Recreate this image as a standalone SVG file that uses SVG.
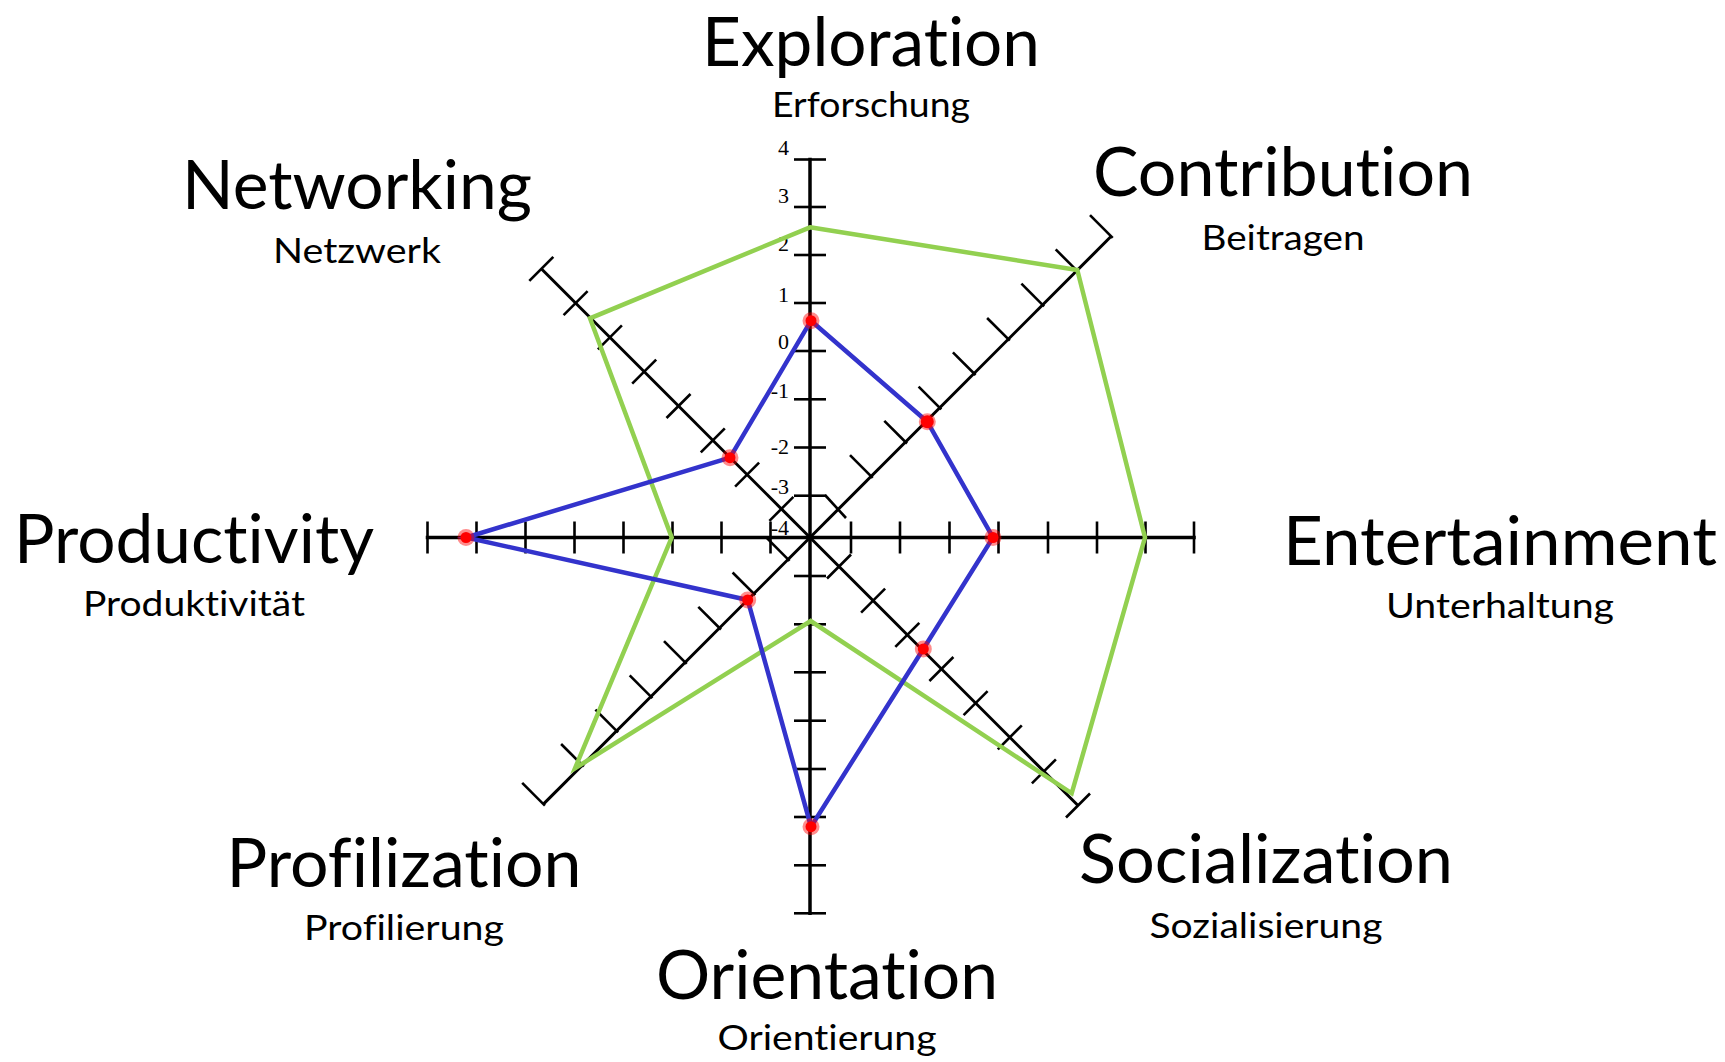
<svg xmlns="http://www.w3.org/2000/svg" width="1725" height="1062" viewBox="0 0 1725 1062">
<style>
.title{font-family:Lato,"Open Sans","Liberation Sans",sans-serif;font-size:68px;fill:#000;text-anchor:middle;font-variant-ligatures:none;font-feature-settings:"liga" 0,"clig" 0}
.sub{font-family:Lato,"Open Sans","Liberation Sans",sans-serif;font-size:35px;fill:#000;text-anchor:middle;font-variant-ligatures:none;font-feature-settings:"liga" 0,"clig" 0}
.num{font-family:"Liberation Serif",serif;font-size:22px;fill:#000;text-anchor:end}
.axis{stroke:#000;stroke-width:3.5;fill:none;stroke-linecap:square}
.diag{stroke:#000;stroke-width:3;fill:none}
.tick{stroke:#000;stroke-width:2.6;fill:none}
.green{fill:none;stroke:#92d050;stroke-width:4.5;stroke-linejoin:miter}
.blue{fill:none;stroke:#3333cc;stroke-width:4.5;stroke-linejoin:miter}
.halo{fill:#ff0000;fill-opacity:0.45}
.dot{fill:#ff0000}
</style>
<rect width="1725" height="1062" fill="#fff"/>

<g id="axes">
  <line class="axis" x1="810" y1="159.5" x2="810" y2="913.3"/>
  <line class="axis" x1="427.5" y1="537.5" x2="1194" y2="537.5"/>
  <line class="diag" x1="810" y1="537.5" x2="1111.2" y2="236.3"/>
  <line class="diag" x1="810" y1="537.5" x2="543.4" y2="804.1"/>
  <line class="diag" x1="810" y1="537.5" x2="541.3" y2="268.8"/>
  <line class="diag" x1="810" y1="537.5" x2="1078" y2="805.5"/>
</g>

<g id="ticks">
  <g id="ticks-vertical">
    <line class="tick" x1="794" y1="159.5" x2="826" y2="159.5"/>
    <line class="tick" x1="794" y1="207" x2="826" y2="207"/>
    <line class="tick" x1="794" y1="255" x2="826" y2="255"/>
    <line class="tick" x1="794" y1="303" x2="826" y2="303"/>
    <line class="tick" x1="794" y1="351" x2="826" y2="351"/>
    <line class="tick" x1="794" y1="399.3" x2="826" y2="399.3"/>
    <line class="tick" x1="794" y1="447.5" x2="826" y2="447.5"/>
    <line class="tick" x1="794" y1="495.7" x2="826" y2="495.7"/>
    <line class="tick" x1="794" y1="576" x2="826" y2="576"/>
    <line class="tick" x1="794" y1="624.3" x2="826" y2="624.3"/>
    <line class="tick" x1="794" y1="672.3" x2="826" y2="672.3"/>
    <line class="tick" x1="794" y1="720.7" x2="826" y2="720.7"/>
    <line class="tick" x1="794" y1="769" x2="826" y2="769"/>
    <line class="tick" x1="794" y1="817" x2="826" y2="817"/>
    <line class="tick" x1="794" y1="865.3" x2="826" y2="865.3"/>
    <line class="tick" x1="794" y1="913.3" x2="826" y2="913.3"/>
  </g>
  <g id="ticks-horizontal">
    <line class="tick" x1="427.5" y1="521.5" x2="427.5" y2="553.5"/>
    <line class="tick" x1="476.5" y1="521.5" x2="476.5" y2="553.5"/>
    <line class="tick" x1="525.5" y1="521.5" x2="525.5" y2="553.5"/>
    <line class="tick" x1="574.5" y1="521.5" x2="574.5" y2="553.5"/>
    <line class="tick" x1="623.5" y1="521.5" x2="623.5" y2="553.5"/>
    <line class="tick" x1="672.5" y1="521.5" x2="672.5" y2="553.5"/>
    <line class="tick" x1="721.5" y1="521.5" x2="721.5" y2="553.5"/>
    <line class="tick" x1="770.5" y1="521.5" x2="770.5" y2="553.5"/>
    <line class="tick" x1="851" y1="521.5" x2="851" y2="553.5"/>
    <line class="tick" x1="900" y1="521.5" x2="900" y2="553.5"/>
    <line class="tick" x1="949.5" y1="521.5" x2="949.5" y2="553.5"/>
    <line class="tick" x1="998.5" y1="521.5" x2="998.5" y2="553.5"/>
    <line class="tick" x1="1048" y1="521.5" x2="1048" y2="553.5"/>
    <line class="tick" x1="1097" y1="521.5" x2="1097" y2="553.5"/>
    <line class="tick" x1="1145.5" y1="521.5" x2="1145.5" y2="553.5"/>
    <line class="tick" x1="1194" y1="521.5" x2="1194" y2="553.5"/>
  </g>
  <g id="ticks-ne">
    <line class="tick" x1="825" y1="495" x2="846" y2="518"/>
    <line class="tick" x1="872.7" y1="477.8" x2="850" y2="455.1"/>
    <line class="tick" x1="907" y1="443.5" x2="884.3" y2="420.8"/>
    <line class="tick" x1="941.3" y1="409.3" x2="918.6" y2="386.6"/>
    <line class="tick" x1="975.6" y1="375" x2="952.9" y2="352.3"/>
    <line class="tick" x1="1009.8" y1="340.7" x2="987.1" y2="318"/>
    <line class="tick" x1="1044.1" y1="306.4" x2="1021.4" y2="283.7"/>
    <line class="tick" x1="1078.4" y1="272.1" x2="1055.7" y2="249.4"/>
    <line class="tick" x1="1112.7" y1="237.8" x2="1090" y2="215.1"/>
  </g>
  <g id="ticks-sw">
    <line class="tick" x1="789.6" y1="560.9" x2="766.9" y2="538.2"/>
    <line class="tick" x1="755.3" y1="595.2" x2="732.6" y2="572.5"/>
    <line class="tick" x1="721" y1="629.5" x2="698.3" y2="606.8"/>
    <line class="tick" x1="686.7" y1="663.8" x2="664" y2="641.1"/>
    <line class="tick" x1="652.4" y1="698.1" x2="629.7" y2="675.4"/>
    <line class="tick" x1="618.1" y1="732.4" x2="595.4" y2="709.7"/>
    <line class="tick" x1="583.8" y1="766.7" x2="561.1" y2="744"/>
    <line class="tick" x1="544.9" y1="805.6" x2="522.2" y2="782.9"/>
  </g>
  <g id="ticks-nw">
    <line class="tick" x1="769.4" y1="520.9" x2="793.4" y2="496.9"/>
    <line class="tick" x1="735.1" y1="486.6" x2="759.1" y2="462.6"/>
    <line class="tick" x1="700.8" y1="452.3" x2="724.8" y2="428.3"/>
    <line class="tick" x1="666.5" y1="418" x2="690.5" y2="394"/>
    <line class="tick" x1="632.2" y1="383.7" x2="656.2" y2="359.7"/>
    <line class="tick" x1="597.9" y1="349.4" x2="621.9" y2="325.4"/>
    <line class="tick" x1="563.6" y1="315.1" x2="587.6" y2="291.1"/>
    <line class="tick" x1="529.3" y1="280.8" x2="553.3" y2="256.8"/>
  </g>
  <g id="ticks-se">
    <line class="tick" x1="827" y1="578.5" x2="851" y2="554.5"/>
    <line class="tick" x1="861.1" y1="612.6" x2="885.1" y2="588.6"/>
    <line class="tick" x1="895.3" y1="646.8" x2="919.3" y2="622.8"/>
    <line class="tick" x1="929.4" y1="681" x2="953.4" y2="657"/>
    <line class="tick" x1="963.6" y1="715.1" x2="987.6" y2="691.1"/>
    <line class="tick" x1="997.8" y1="749.3" x2="1021.8" y2="725.3"/>
    <line class="tick" x1="1031.9" y1="783.4" x2="1055.9" y2="759.4"/>
    <line class="tick" x1="1066" y1="817.5" x2="1090" y2="793.5"/>
  </g>
</g>

<g id="scale-labels">
  <text class="num" x="789" y="155">4</text>
  <text class="num" x="789" y="203">3</text>
  <text class="num" x="789" y="251">2</text>
  <text class="num" x="789" y="302">1</text>
  <text class="num" x="789" y="349">0</text>
  <text class="num" x="789" y="398">-1</text>
  <text class="num" x="789" y="454">-2</text>
  <text class="num" x="789" y="494">-3</text>
  <text class="num" x="789" y="535">-4</text>
</g>

<g id="series">
  <polygon id="series-green" class="green" points="810,227.3 1077.3,270 1145,537.5 1071.7,793.3 810.7,621 575,768.3 671.7,537.5 590,318.3"/>
  <polygon id="series-blue" class="blue" points="811,320.7 927.3,421.7 993,537.5 923.3,649 811,826.7 747.7,600 466,537.5 730,457.7"/>
  <g id="series-blue-points">
    <circle class="halo" cx="811" cy="320.7" r="8.5"/><circle class="dot" cx="811" cy="320.7" r="5.5"/>
    <circle class="halo" cx="927.3" cy="421.7" r="8.5"/><circle class="dot" cx="927.3" cy="421.7" r="6.5"/>
    <circle class="halo" cx="993" cy="537.5" r="8.5"/><circle class="dot" cx="993" cy="537.5" r="5.5"/>
    <circle class="halo" cx="923.3" cy="649" r="8.5"/><circle class="dot" cx="923.3" cy="649" r="5.5"/>
    <circle class="halo" cx="811" cy="826.7" r="8.5"/><circle class="dot" cx="811" cy="826.7" r="5.5"/>
    <circle class="halo" cx="747.7" cy="600" r="8.5"/><circle class="dot" cx="747.7" cy="600" r="5.5"/>
    <circle class="halo" cx="466" cy="537.5" r="8.5"/><circle class="dot" cx="466" cy="537.5" r="5.5"/>
    <circle class="halo" cx="730" cy="457.7" r="8.5"/><circle class="dot" cx="730" cy="457.7" r="5.5"/>
  </g>
</g>

<g id="label-exploration">
  <text class="title" x="871" y="66" textLength="338" lengthAdjust="spacingAndGlyphs">Exploration</text>
  <text class="sub" x="871" y="117" textLength="198" lengthAdjust="spacingAndGlyphs">Erforschung</text>
</g>
<g id="label-contribution">
  <text class="title" x="1283" y="196" textLength="380" lengthAdjust="spacingAndGlyphs">Contribution</text>
  <text class="sub" x="1283" y="250" textLength="163" lengthAdjust="spacingAndGlyphs">Beitragen</text>
</g>
<g id="label-networking">
  <text class="title" x="357" y="209" textLength="350" lengthAdjust="spacingAndGlyphs">Networking</text>
  <text class="sub" x="357" y="263" textLength="168" lengthAdjust="spacingAndGlyphs">Netzwerk</text>
</g>
<g id="label-productivity">
  <text class="title" x="194" y="563" textLength="360" lengthAdjust="spacingAndGlyphs">Productivity</text>
  <text class="sub" x="194" y="616" textLength="222" lengthAdjust="spacingAndGlyphs">Produktivität</text>
</g>
<g id="label-entertainment">
  <text class="title" x="1500" y="565" textLength="434" lengthAdjust="spacingAndGlyphs">Entertainment</text>
  <text class="sub" x="1500" y="618" textLength="228" lengthAdjust="spacingAndGlyphs">Unterhaltung</text>
</g>
<g id="label-profilization">
  <text class="title" x="404" y="887" textLength="355" lengthAdjust="spacingAndGlyphs">Profilization</text>
  <text class="sub" x="404" y="940" textLength="200" lengthAdjust="spacingAndGlyphs">Profilierung</text>
</g>
<g id="label-socialization">
  <text class="title" x="1266" y="883" textLength="374" lengthAdjust="spacingAndGlyphs">Socialization</text>
  <text class="sub" x="1266" y="938" textLength="233" lengthAdjust="spacingAndGlyphs">Sozialisierung</text>
</g>
<g id="label-orientation">
  <text class="title" x="827" y="999" textLength="342" lengthAdjust="spacingAndGlyphs">Orientation</text>
  <text class="sub" x="827" y="1050" textLength="219" lengthAdjust="spacingAndGlyphs">Orientierung</text>
</g>
</svg>
